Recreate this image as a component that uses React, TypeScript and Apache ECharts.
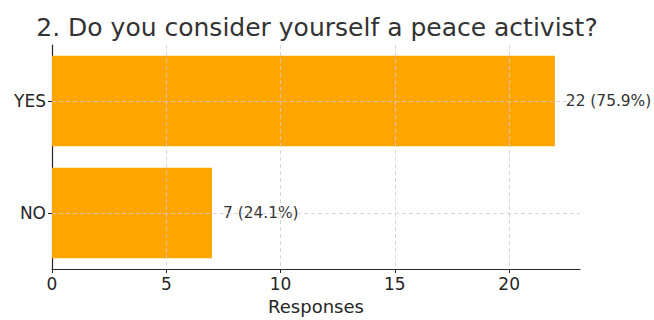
import React, { useEffect, useRef } from "react";
import * as echarts from "echarts";

const titleText = "2. Do you consider yourself a peace activist?";
const categories = ["YES", "NO"];
const counts = [22, 7];
const percents = ["75.9%", "24.1%"];
const xTicks = [0, 5, 10, 15, 20];
const xMax = 23.1;
const xName = "Responses";

const FONT = "DejaVu Sans";

export default function App() {
  const ref = useRef<HTMLDivElement>(null);
  useEffect(() => {
    if (!ref.current) return;
    const chart = echarts.init(ref.current, undefined, { renderer: "svg" });
    const gridLine = { color: "#cccccc", type: [4, 3] as any, width: 0.8 };
    chart.setOption({
      animation: false,
      textStyle: { fontFamily: FONT },
      title: {
        text: titleText,
        left: 312,
        top: 10,
        textAlign: "center",
        textStyle: { fontFamily: FONT, fontSize: 25, fontWeight: "normal", color: "#333333" },
      },
      grid: { left: 52, right: 74, top: 45, bottom: 47 },
      xAxis: {
        type: "value",
        min: 0,
        max: xMax,
        interval: 5,
        name: xName,
        nameLocation: "middle",
        nameGap: 28,
        nameTextStyle: { fontFamily: FONT, fontSize: 18, color: "#262626" },
        axisLine: { show: true, lineStyle: { color: "#262626", width: 1.2 } },
        axisTick: { show: true, length: 4, customValues: xTicks, lineStyle: { color: "#262626" } },
        axisLabel: { customValues: xTicks, fontFamily: FONT, fontSize: 17, color: "#262626", margin: 6 },
        splitLine: { show: false },
      },
      yAxis: {
        type: "category",
        data: categories,
        inverse: true,
        axisLine: { show: true, lineStyle: { color: "#262626", width: 1.2 } },
        axisTick: { show: true, length: 4, alignWithLabel: true, lineStyle: { color: "#262626" } },
        axisLabel: { fontFamily: FONT, fontSize: 17, color: "#262626", margin: 6 },
        splitLine: { show: false },
      },
      series: [
        {
          type: "bar",
          data: counts,
          barCategoryGap: "19%",
          itemStyle: { color: "#FFA500" },
          label: {
            show: true,
            position: "right",
            distance: 11,
            fontFamily: FONT,
            fontSize: 15.4,
            color: "#333333",
            formatter: (p: any) => `${counts[p.dataIndex]} (${percents[p.dataIndex]})`,
          },
          markLine: {
            silent: true,
            symbol: "none",
            label: { show: false },
            lineStyle: gridLine,
            emphasis: { disabled: true },
            data: [
              ...xTicks.filter((v) => v > 0).map((v) => ({ xAxis: v })),
              ...categories.map((c) => ({ yAxis: c })),
            ],
          },
        },
      ],
    });
    return () => chart.dispose();
  }, []);
  return (
    <div
      ref={ref}
      style={{ position: "fixed", left: 0, top: 0, width: 654, height: 320, background: "#ffffff" }}
    />
  );
}
